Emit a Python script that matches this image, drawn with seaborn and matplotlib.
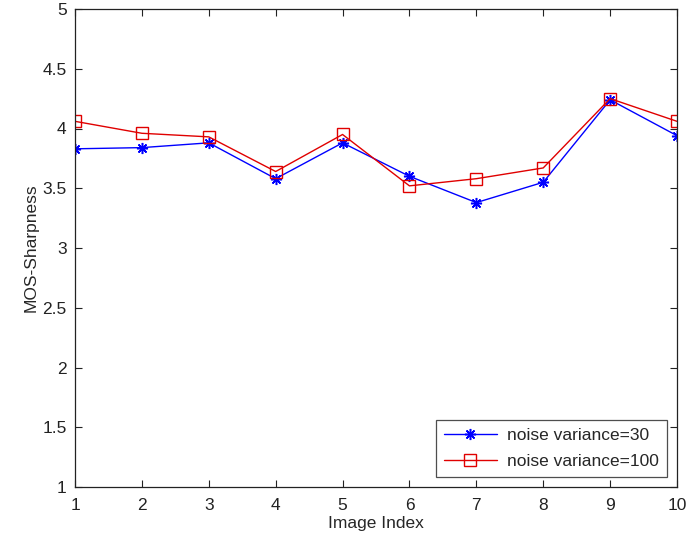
import matplotlib
matplotlib.use("Agg")
import matplotlib.pyplot as plt
import seaborn as sns
import pandas as pd

image_index = [1, 2, 3, 4, 5, 6, 7, 8, 9, 10]
mos_var30 = [3.83, 3.84, 3.88, 3.58, 3.88, 3.60, 3.38, 3.55, 4.24, 3.94]
mos_var100 = [4.06, 3.96, 3.93, 3.64, 3.95, 3.52, 3.58, 3.67, 4.25, 4.06]
series_labels = ["noise variance=30", "noise variance=100"]
y_ticks = [1, 1.5, 2, 2.5, 3, 3.5, 4, 4.5, 5]
y_tick_labels = ["1", "1.5", "2", "2.5", "3", "3.5", "4", "4.5", "5"]

sns.set_theme(style="white")
plt.rcParams["font.family"] = ["Liberation Sans", "DejaVu Sans"]

fs = 12.5
fig = plt.figure(figsize=(6.88, 5.39), dpi=100)
ax = fig.add_axes([75 / 688, 1 - 487 / 539, (677 - 75) / 688, (487 - 9) / 539])

df30 = pd.DataFrame({"idx": image_index, "mos": mos_var30})
df100 = pd.DataFrame({"idx": image_index, "mos": mos_var100})

# asterisk markers: eight spokes, like '+' and 'x' overlaid
sns.lineplot(data=df30, x="idx", y="mos", ax=ax, color="#0000ff", lw=1.0,
             marker=(8, 2, 0), markersize=8, markeredgewidth=1.1,
             markeredgecolor="#0000ff", label=series_labels[0])
sns.lineplot(data=df100, x="idx", y="mos", ax=ax, color="#e00000", lw=1.0,
             marker="s", markersize=8.5, markerfacecolor="none",
             markeredgewidth=1.0, markeredgecolor="#e00000",
             label=series_labels[1])

ax.set_xlim(1, 10)
ax.set_ylim(1, 5)
ax.set_xticks(image_index)
ax.set_xticklabels([str(i) for i in image_index])
ax.set_yticks(y_ticks)
ax.set_yticklabels(y_tick_labels)
ax.set_xlabel("Image Index", fontsize=fs, labelpad=2)
ax.set_ylabel("MOS-Sharpness", fontsize=fs, labelpad=3)
ax.tick_params(direction="in", length=5, width=0.8, colors="#222222",
               labelsize=fs, top=True, right=True, bottom=True, left=True)
ax.tick_params(axis="x", pad=8)
ax.tick_params(axis="y", pad=6)
for s in ax.spines.values():
    s.set_color("#222222")
    s.set_linewidth(0.9)

leg = ax.legend(loc="lower right", fontsize=fs, frameon=True, fancybox=False,
                edgecolor="#222222", borderaxespad=0.6, handlelength=3.1,
                borderpad=0.45, labelspacing=0.6, handletextpad=0.55)
leg.get_frame().set_linewidth(0.9)

fig.savefig("out.png", dpi=100, facecolor="white")
